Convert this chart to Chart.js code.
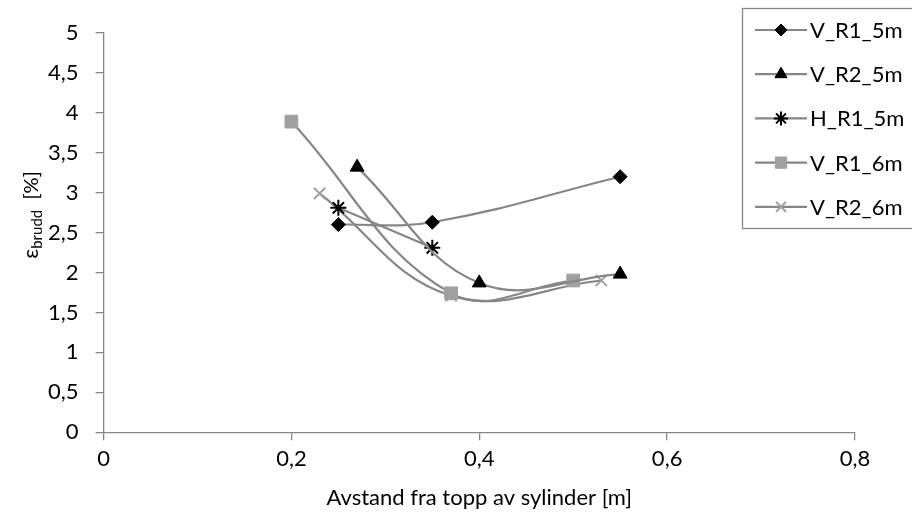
<!DOCTYPE html>
<html>
<head>
<meta charset="utf-8">
<script src="https://cdn.jsdelivr.net/npm/chart.js@4"></script>
<style>
  html, body { margin: 0; padding: 0; background: #fff; }
  #wrap { width: 912px; height: 515px; position: relative; }
</style>
</head>
<body>
<div id="wrap"><canvas id="chart1"></canvas></div>
<script>
// serier (avstand [m], brudd-toeyning [%])
const names = ['V_R1_5m', 'V_R2_5m', 'H_R1_5m', 'V_R1_6m', 'V_R2_6m'];

const xV_R1_5m = [0.25, 0.35, 0.55];
const yV_R1_5m = [2.6, 2.63, 3.2];

const xV_R2_5m = [0.27, 0.40, 0.55];
const yV_R2_5m = [3.32, 1.87, 1.98];

const xH_R1_5m = [0.25, 0.35];
const yH_R1_5m = [2.81, 2.31];

const xV_R1_6m = [0.20, 0.37, 0.50];
const yV_R1_6m = [3.89, 1.74, 1.9];

const xV_R2_6m = [0.23, 0.37, 0.53];
const yV_R2_6m = [2.99, 1.71, 1.9];

const xTicks = [0, 0.2, 0.4, 0.6, 0.8];
const yTicks = [0, 0.5, 1, 1.5, 2, 2.5, 3, 3.5, 4, 4.5, 5];

const lineGrey = 'rgb(134, 134, 134)';
const markGrey = 'rgb(160, 160, 160)';
const fontName = 'Lato';

function pts(xs, ys) {
  return xs.map((x, i) => ({ x: x, y: ys[i] }));
}

function serie(label, xs, ys, style, color, radius) {
  return {
    label: label,
    data: pts(xs, ys),
    borderColor: lineGrey,
    borderWidth: 2.2,
    tension: 0.4,
    pointStyle: style,
    pointRadius: radius,
    pointBackgroundColor: color,
    pointBorderColor: color,
    pointBorderWidth: style == 'star' || style == 'crossRot' ? 2 : 1,
    showLine: true,
    fill: false
  };
}

const datasets = [
  serie(names[0], xV_R1_5m, yV_R1_5m, 'rectRot', '#000', 7),
  serie(names[1], xV_R2_5m, yV_R2_5m, 'triangle', '#000', 8),
  serie(names[2], xH_R1_5m, yH_R1_5m, 'star', '#000', 8),
  serie(names[3], xV_R1_6m, yV_R1_6m, 'rect', markGrey, 9),
  serie(names[4], xV_R2_6m, yV_R2_6m, 'crossRot', markGrey, 8)
];

const fmt = v => String(v).replace('.', ',');

// egen legende med linje + markoer, og y-tittel med senket skrift
const extras = {
  id: 'extras',
  afterDraw(chart) {
    const ctx = chart.ctx;
    ctx.save();
    // legendeboks
    ctx.strokeStyle = lineGrey;
    ctx.lineWidth = 1.3;
    ctx.strokeRect(742.5, 8.5, 180, 220);
    ctx.font = '22px ' + fontName;
    ctx.textBaseline = 'middle';
    chart.data.datasets.forEach((ds, i) => {
      const y = 30 + i * 44.2;
      ctx.strokeStyle = lineGrey;
      ctx.lineWidth = 2.2;
      ctx.beginPath();
      ctx.moveTo(755, y);
      ctx.lineTo(807, y);
      ctx.stroke();
      ctx.fillStyle = ds.pointBackgroundColor;
      ctx.strokeStyle = ds.pointBorderColor;
      ctx.lineWidth = ds.pointBorderWidth;
      Chart.helpers.drawPoint(ctx, { pointStyle: ds.pointStyle, radius: ds.pointRadius - 1, rotation: 0, borderWidth: ds.pointBorderWidth }, 781, y);
      ctx.fillStyle = '#000';
      ctx.textAlign = 'left';
      ctx.fillText(ds.label, 810, y + 1);
    });
    // y-aksetittel
    ctx.translate(32, 215);
    ctx.rotate(-Math.PI / 2);
    ctx.fillStyle = '#000';
    ctx.textBaseline = 'alphabetic';
    ctx.font = '22px ' + fontName;
    const w1 = ctx.measureText('ε').width;
    ctx.font = '15px ' + fontName;
    const w2 = ctx.measureText('brudd').width;
    ctx.font = '20px ' + fontName;
    const w3 = ctx.measureText('  [%]').width;
    let x0 = -(w1 + w2 + w3) / 2;
    ctx.font = '22px ' + fontName;
    ctx.fillText('ε', x0, 6);
    ctx.font = '15px ' + fontName;
    ctx.fillText('brudd', x0 + w1, 10);
    ctx.font = '20px ' + fontName;
    ctx.fillText('  [%]', x0 + w1 + w2, 6);
    ctx.restore();
  }
};

const config1 = {
  type: 'scatter',
  data: { datasets: datasets },
  options: {
    responsive: false,
    animation: false,
    layout: { padding: { left: 31, right: 57, top: 33, bottom: 0 } },
    plugins: {
      legend: { display: false },
      tooltip: { enabled: false }
    },
    scales: {
      x: {
        type: 'linear',
        min: 0,
        max: 0.8,
        afterBuildTicks: axis => { axis.ticks = xTicks.map(v => ({ value: v })); },
        border: { color: lineGrey, width: 1.3 },
        grid: { drawOnChartArea: false, color: lineGrey, tickLength: 8, lineWidth: 1.3 },
        ticks: { color: '#000', font: { family: fontName, size: 22 }, padding: 6, maxRotation: 0, callback: v => fmt(v) },
        title: { display: true, text: 'Avstand fra topp av sylinder [m]', color: '#000', font: { family: fontName, size: 22 }, padding: { top: 6, bottom: 4 } }
      },
      y: {
        type: 'linear',
        min: 0,
        max: 5,
        afterBuildTicks: axis => { axis.ticks = yTicks.map(v => ({ value: v })); },
        border: { color: lineGrey, width: 1.3 },
        grid: { drawOnChartArea: false, color: lineGrey, tickLength: 8, lineWidth: 1.3 },
        ticks: { color: '#000', font: { family: fontName, size: 22 }, padding: 17, callback: v => fmt(v) }
      }
    }
  },
  plugins: [extras]
};

const canvas = document.getElementById('chart1');
canvas.width = 912;
canvas.height = 515;
const myChart1 = new Chart(canvas, config1);
</script>
</body>
</html>
